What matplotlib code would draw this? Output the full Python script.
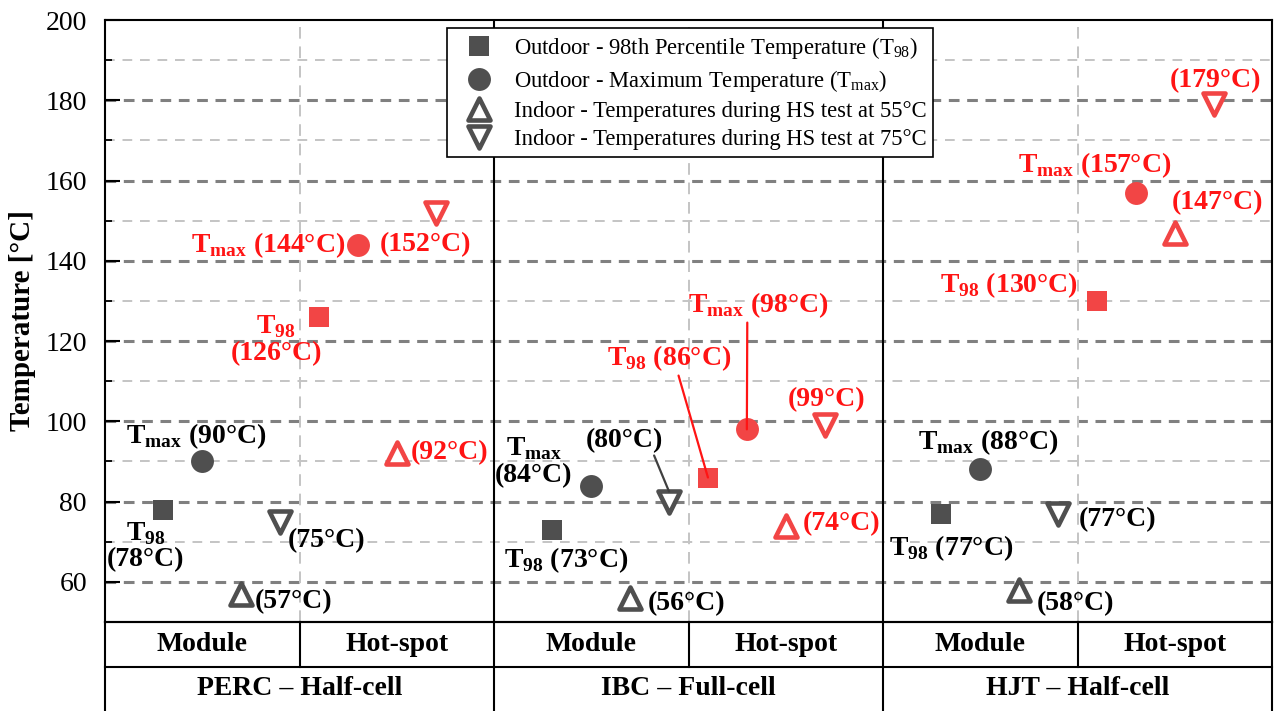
import matplotlib
matplotlib.use("Agg")
import matplotlib.pyplot as plt
from matplotlib.lines import Line2D
from matplotlib.markers import MarkerStyle
from matplotlib.ticker import MultipleLocator

plt.rcParams["font.family"] = ["Liberation Serif", "DejaVu Serif"]
plt.rcParams["mathtext.fontset"] = "custom"
plt.rcParams["mathtext.rm"] = "Liberation Serif"
plt.rcParams["mathtext.bf"] = "Liberation Serif:bold"

# data
groups = ["PERC – Half-cell", "IBC – Full-cell", "HJT – Half-cell"]
locations = ["Module", "Hot-spot"]
t98_module = [78, 73, 77]
tmax_module = [90, 84, 88]
hs55_module = [57, 56, 58]
hs75_module = [75, 80, 77]
t98_hotspot = [126, 86, 130]
tmax_hotspot = [144, 98, 157]
hs55_hotspot = [92, 74, 147]
hs75_hotspot = [152, 99, 179]

legend_labels = [
    "Outdoor - 98th Percentile Temperature (T$_{\\mathrm{98}}$)",
    "Outdoor - Maximum Temperature (T$_{\\mathrm{max}}$)",
    "Indoor - Temperatures during HS test at 55°C",
    "Indoor - Temperatures during HS test at 75°C",
]

GRAY = "#4f4f4f"
RED_MK = "#f24545"
RED_TXT = "#ff1414"
FS = 20

series = {
    "t98": (t98_module, t98_hotspot, "s", 14.5, 0.3),
    "tmax": (tmax_module, tmax_hotspot, "o", 16.5, 0.5),
    "hs55": (hs55_module, hs55_hotspot, "^", 16.5, 0.7),
    "hs75": (hs75_module, hs75_hotspot, "v", 16.5, 0.9),
}

# label layout: (series, group, hotspot?, dx, dy, prefix, sep, connector relpos)
label_layout = [
    ("t98", 0, 0, -0.09, -9.1, "98", "\n", None),
    ("tmax", 0, 0, -0.03, 6.3, "max", " ", None),
    ("hs55", 0, 0, 0.27, -2.0, None, "", None),
    ("hs75", 0, 0, 0.24, -4.6, None, "", None),
    ("t98", 0, 1, -0.22, -5.7, "98", "\n", None),
    ("tmax", 0, 1, -0.46, 0.0, "max", " ", None),
    ("hs55", 0, 1, 0.27, 0.3, None, "", None),
    ("hs75", 0, 1, -0.05, -8.0, None, "", None),
    ("t98", 1, 0, 0.07, -7.6, "98", " ", None),
    ("tmax", 1, 0, -0.295, 5.9, "max", "\n", None),
    ("hs55", 1, 0, 0.29, -1.3, None, "", None),
    ("hs75", 1, 0, -0.23, 15.3, None, "", (0.87, 0.0)),
    ("t98", 1, 1, -0.2, 29.8, "98", " ", (0.57, 0.0)),
    ("tmax", 1, 1, 0.06, 31.0, "max", " ", (0.42, 0.0)),
    ("hs55", 1, 1, 0.285, 0.4, None, "", None),
    ("hs75", 1, 1, 0.01, 6.3, None, "", None),
    ("t98", 2, 0, 0.05, -8.6, "98", " ", None),
    ("tmax", 2, 0, 0.04, 6.8, "max", " ", None),
    ("hs55", 2, 0, 0.29, -3.3, None, "", None),
    ("hs75", 2, 0, 0.305, -1.6, None, "", None),
    ("t98", 2, 1, -0.45, 4.0, "98", " ", None),
    ("tmax", 2, 1, -0.21, 6.9, "max", " ", None),
    ("hs55", 2, 1, 0.22, 7.4, None, "", None),
    ("hs75", 2, 1, 0.01, 6.0, None, "", None),
]

W, H = 1277, 711
fig = plt.figure(figsize=(W / 100, H / 100), dpi=100)
x0, x1, y_top, y_bot = 105, 1272, 20, 622
ax = fig.add_axes([x0 / W, 1 - y_bot / H, (x1 - x0) / W, (y_bot - y_top) / H])

ax.set_xlim(0, 6)
ax.set_ylim(50, 200)
ax.set_xticks([])
ax.yaxis.set_major_locator(MultipleLocator(20))
ax.yaxis.set_minor_locator(MultipleLocator(10))
ax.set_yticks([60, 80, 100, 120, 140, 160, 180, 200])
ax.tick_params(axis="y", which="major", direction="in", length=11, width=1.5,
               labelsize=FS, pad=13)
ax.tick_params(axis="y", which="minor", direction="in", length=5, width=1.3)
for s in ax.spines.values():
    s.set_linewidth(1.5)

# grid
for v in range(60, 200, 20):
    ax.axhline(v, color="#808080", lw=2.2, ls=(0, (3.5, 2.5)), zorder=0)
for v in range(70, 200, 20):
    ax.axhline(v, color="#c4c4c4", lw=1.4, ls=(0, (5, 4)), zorder=0)
for v in [1, 3, 5]:
    ax.axvline(v, color="#c4c4c4", lw=1.4, ls=(0, (6, 4)), zorder=0)
for v in [2, 4]:
    ax.axvline(v, color="black", lw=1.5, zorder=1)

ax.set_ylabel("Temperature [°C]", fontsize=21, fontweight="bold", labelpad=7)


def marker_style(m):
    return MarkerStyle(m, joinstyle="round")


for key, (mod, hot, m, ms, off) in series.items():
    hollow = m in ("^", "v")
    for loc, vals, col in [(0, mod, GRAY), (1, hot, RED_MK)]:
        xs = [2 * g + loc * 0.8 + off for g in range(len(groups))]
        ax.plot(xs, vals, ls="none", marker=marker_style(m), ms=ms,
                mfc="white" if hollow else col, mec=col,
                mew=3.3 if hollow else 0, zorder=3)

for key, g, loc, dx, dy, pre, sep, relpos in label_layout:
    mod, hot, m, ms, off = series[key]
    val = (hot if loc else mod)[g]
    xm = 2 * g + loc * 0.8 + off
    txt = f"({val}°C)"
    if pre:
        txt = "T$_{\\mathbf{" + pre + "}}$" + sep + txt
    col = RED_TXT if loc else "black"
    kw = dict(ha="center", va="center", fontsize=FS, fontweight="bold",
              color=col, linespacing=1.05, zorder=4)
    if relpos is None:
        ax.text(xm + dx, val + dy, txt, **kw)
    else:
        ax.annotate(txt, xy=(xm, val + (2.5 if key == "hs75" else 0)),
                    xytext=(xm + dx, val + dy),
                    arrowprops=dict(arrowstyle="-", color=RED_TXT if loc else "#404040",
                                    lw=1.6, relpos=relpos, shrinkA=0, shrinkB=0),
                    **kw)

# legend
handles = []
for key, lab in zip(series, legend_labels):
    mod, hot, m, ms, off = series[key]
    hollow = m in ("^", "v")
    handles.append(Line2D([], [], ls="none", marker=marker_style(m), ms=ms,
                          mfc="white" if hollow else GRAY, mec=GRAY,
                          mew=3.3 if hollow else 0, label=lab))
leg = ax.legend(handles=handles, loc="upper center", bbox_to_anchor=(0.5015, 0.987),
                fontsize=16.3, frameon=True, fancybox=False, edgecolor="black",
                framealpha=1, borderpad=0.3, labelspacing=0.32, handlelength=2.2,
                handletextpad=0.45, borderaxespad=0)
leg.get_frame().set_linewidth(1.2)
leg.set_zorder(5)

# category table below the plot
tab = fig.add_axes([x0 / W, 0, (x1 - x0) / W, (H - y_bot) / H])
tab.set_xlim(0, 6)
tab.set_ylim(0, 2)
tab.axis("off")
lk = dict(color="black", lw=1.5, clip_on=False)
tab.plot([0, 6], [1, 1], **lk)
tab.plot([0, 6], [2, 2], **lk)
tab.plot([0, 0], [0, 2], **lk)
tab.plot([6, 6], [0, 2], **lk)
for g, name in enumerate(groups):
    tab.plot([2 * g + 1, 2 * g + 1], [1, 2], **lk)
    if g > 0:
        tab.plot([2 * g, 2 * g], [0, 2], **lk)
    tab.text(2 * g + 1, 0.5, name, ha="center", va="center", fontsize=FS,
             fontweight="bold")
    for i, loc in enumerate(locations):
        tab.text(2 * g + i + 0.5, 1.5, loc, ha="center", va="center",
                 fontsize=FS, fontweight="bold")

fig.savefig("out.png", dpi=100)
